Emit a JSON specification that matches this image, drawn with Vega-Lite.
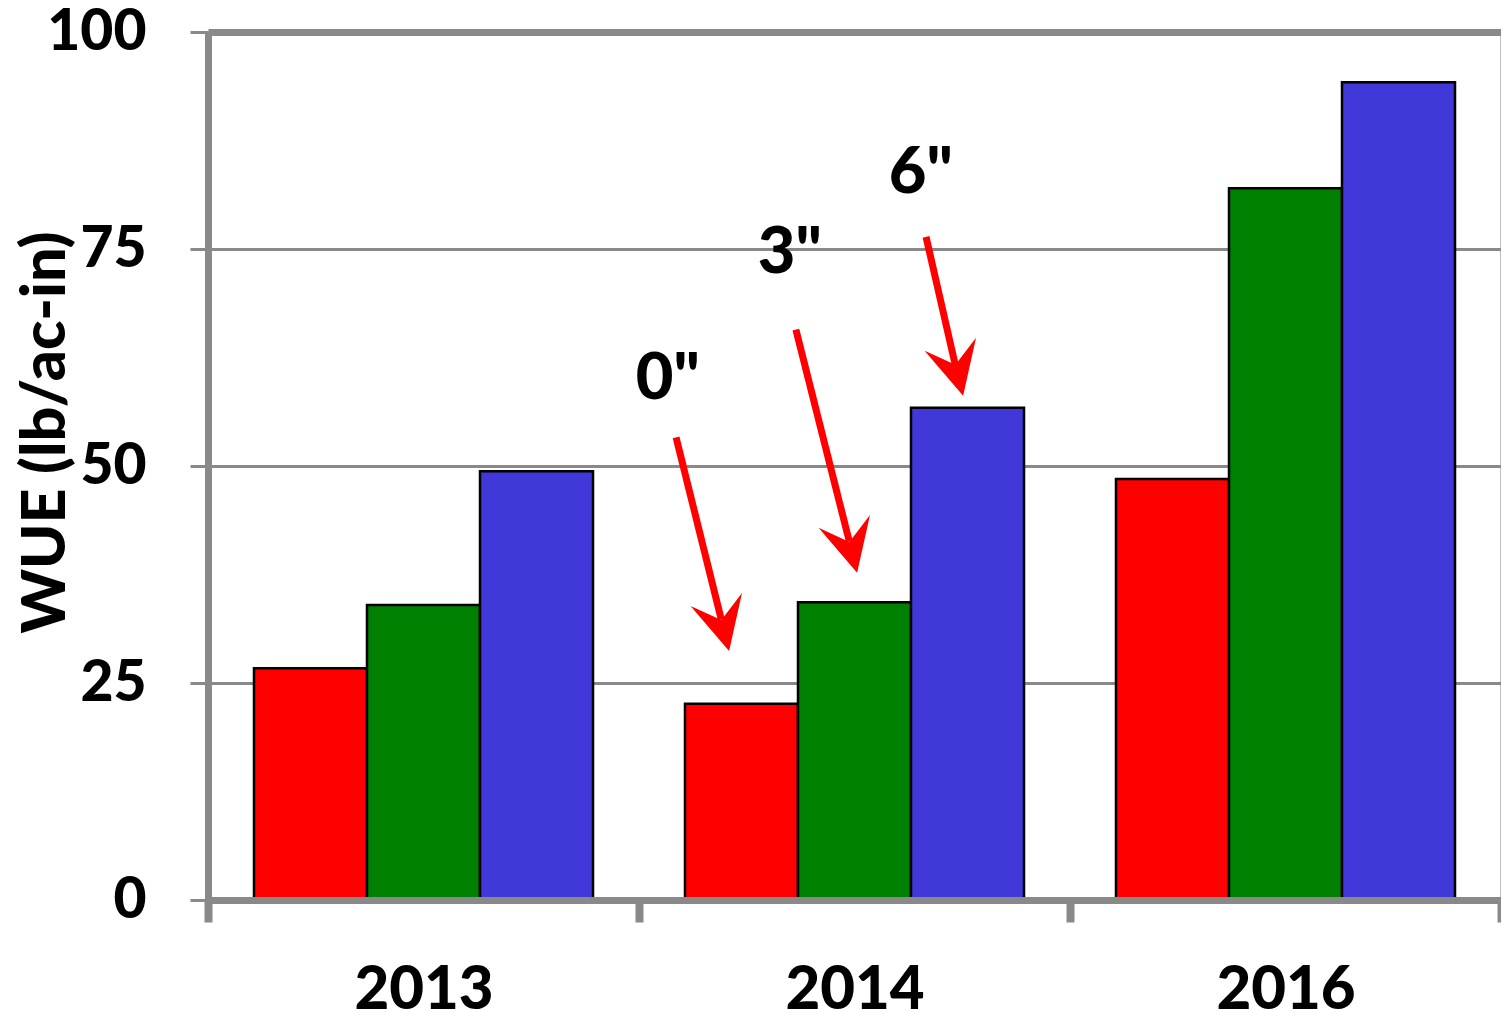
{
  "$schema": "https://vega.github.io/schema/vega-lite/v6.json",
  "width": 1293,
  "height": 868,
  "autosize": {"type": "none"},
  "padding": {"left": 208, "top": 32, "right": 0, "bottom": 112},
  "config": {"font": "Lato", "view": {"stroke": "#BFBFBF", "strokeWidth": 2}},
  "datasets": {
    "bars": [
      {"year": "2013", "depth": "0\"", "wue": 26.7},
      {"year": "2013", "depth": "3\"", "wue": 34.0},
      {"year": "2013", "depth": "6\"", "wue": 49.4},
      {"year": "2014", "depth": "0\"", "wue": 22.6},
      {"year": "2014", "depth": "3\"", "wue": 34.3},
      {"year": "2014", "depth": "6\"", "wue": 56.7},
      {"year": "2016", "depth": "0\"", "wue": 48.5},
      {"year": "2016", "depth": "3\"", "wue": 82.0},
      {"year": "2016", "depth": "6\"", "wue": 94.2}
    ],
    "arrows": [
      {"label": "0\"", "x1": 1.086, "y1": 53.3, "x2": 1.191, "y2": 32.3, "tx": 1.209, "ty": 28.7, "lx": 1.067, "ly": 57.7},
      {"label": "3\"", "x1": 1.364, "y1": 65.7, "x2": 1.488, "y2": 41.3, "tx": 1.506, "ty": 37.7, "lx": 1.350, "ly": 72.2},
      {"label": "6\"", "x1": 1.666, "y1": 76.4, "x2": 1.734, "y2": 61.6, "tx": 1.752, "ty": 58.1, "lx": 1.654, "ly": 81.4}
    ]
  },
  "layer": [
    {
      "data": {"name": "bars"},
      "mark": {"type": "bar", "stroke": "black", "strokeWidth": 2.5},
      "encoding": {
        "x": {
          "field": "year", "type": "nominal",
          "scale": {"paddingInner": 0, "paddingOuter": 0},
          "axis": {
            "title": null, "labelFontSize": 60, "labelFontWeight": 900, "labelColor": "black",
            "labelAngle": 0, "labelBaseline": "alphabetic", "labelPadding": 86,
            "tickBand": "extent", "tickSize": 22, "tickWidth": 8, "tickColor": "#898989",
            "domainColor": "#898989", "domainWidth": 7, "zindex": 1
          }
        },
        "xOffset": {"field": "depth", "type": "nominal", "scale": {"paddingInner": 0, "paddingOuter": 0.407}},
        "y": {
          "field": "wue", "type": "quantitative",
          "scale": {"domain": [0, 100], "nice": false},
          "axis": {
            "title": "WUE (lb/ac-in)", "titleFontSize": 61, "titleFontWeight": 900, "titleColor": "black",
            "titleX": -144, "titleY": 400, "titleAlign": "center", "titleBaseline": "alphabetic", "titleAngle": 270,
            "values": [0, 25, 50, 75, 100],
            "labelFontSize": 57, "labelFontWeight": 900, "labelColor": "black", "labelPadding": 44,
            "tickSize": 18, "tickWidth": 3, "tickColor": "#898989",
            "domainColor": "#898989", "domainWidth": 7,
            "grid": true, "gridColor": "#898989",
            "gridWidth": {"condition": {"test": "datum.value === 100", "value": 7}, "value": 3}
          }
        },
        "color": {
          "field": "depth", "type": "nominal",
          "scale": {"domain": ["0\"", "3\"", "6\""], "range": ["#FF0000", "#008000", "#4038D8"]},
          "legend": null
        }
      }
    },
    {
      "data": {"name": "arrows"},
      "mark": {"type": "rule", "color": "#FF0000", "strokeWidth": 7, "strokeCap": "butt"},
      "encoding": {
        "x": {"field": "x1", "type": "quantitative", "scale": {"domain": [0, 3], "nice": false}, "axis": null},
        "x2": {"field": "x2"},
        "y": {"field": "y1", "type": "quantitative", "scale": {"domain": [0, 100], "nice": false}},
        "y2": {"field": "y2"}
      }
    },
    {
      "data": {"name": "arrows"},
      "mark": {"type": "point", "shape": "M0,1L-1,-1L0,-0.2L1,-1Z", "filled": true, "color": "#FF0000", "opacity": 1,
               "size": 2809, "angle": 346, "xOffset": -6.4, "yOffset": -25.7},
      "encoding": {
        "x": {"field": "tx", "type": "quantitative", "scale": {"domain": [0, 3], "nice": false}, "axis": null},
        "y": {"field": "ty", "type": "quantitative", "scale": {"domain": [0, 100], "nice": false}}
      }
    },
    {
      "data": {"name": "arrows"},
      "mark": {"type": "text", "fontSize": 65, "fontWeight": 900, "baseline": "alphabetic", "align": "center", "color": "black"},
      "encoding": {
        "x": {"field": "lx", "type": "quantitative", "scale": {"domain": [0, 3], "nice": false}, "axis": null},
        "y": {"field": "ly", "type": "quantitative", "scale": {"domain": [0, 100], "nice": false}},
        "text": {"field": "label"}
      }
    }
  ],
  "resolve": {"scale": {"x": "independent"}}
}
